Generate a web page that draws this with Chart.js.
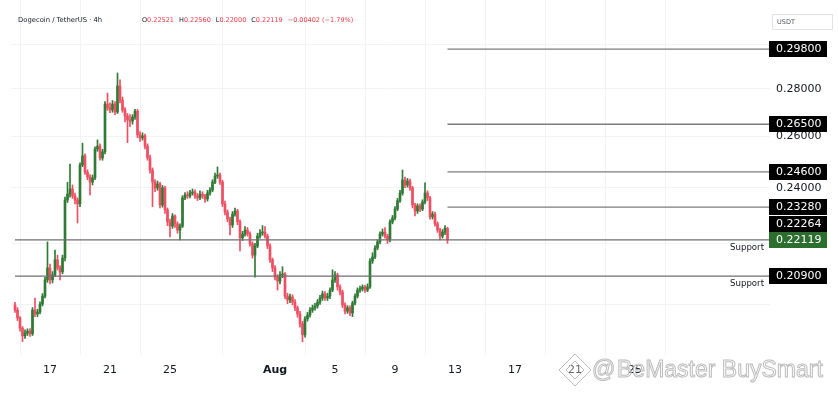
<!DOCTYPE html>
<html><head><meta charset="utf-8">
<script src="https://cdn.jsdelivr.net/npm/chart.js@4/dist/chart.umd.min.js"></script>
<style>html,body{margin:0;padding:0;background:#fff;overflow:hidden}#wrap{width:838px;height:393px;position:relative}</style>
</head><body><div id="wrap"><canvas id="c" width="838" height="393"></canvas></div>
<script>
// ---------- data ----------
const symbolTitle = 'Dogecoin / TetherUS · 4h';
const ohlcLegend = [['O','0.22521'],['H','0.22560'],['L','0.22000'],['C','0.22119'],['','\u22120.00402 (\u22121.79%)']];
const firstCandleDay = -14/6;   // days relative to Jul 17 00:00 (Jul 14 16:00)
const candleStepDays = 1/6;     // 4h candles
const firstOpen = 0.1998;
const closes = [
0.1982,0.1958,0.1927,0.1904,0.1912,0.1918,0.1910,0.1982,0.1970,0.1976,
0.2001,0.2026,0.2078,0.2117,0.2078,0.2094,0.2144,0.2117,0.2104,0.2150,
0.2354,0.2376,0.2395,0.2369,0.2354,0.2340,0.2487,0.2522,0.2459,0.2440,
0.2421,0.2437,0.2549,0.2561,0.2514,0.2538,0.2735,0.2718,0.2710,0.2735,
0.2701,0.2813,0.2752,0.2710,0.2684,0.2668,0.2663,0.2680,0.2705,0.2606,
0.2594,0.2602,0.2561,0.2514,0.2467,0.2421,0.2399,0.2414,0.2336,0.2399,
0.2318,0.2275,0.2260,0.2296,0.2268,0.2246,0.2260,0.2362,0.2373,0.2369,
0.2380,0.2384,0.2369,0.2362,0.2376,0.2369,0.2358,0.2380,0.2391,0.2421,
0.2444,0.2448,0.2421,0.2340,0.2310,0.2285,0.2264,0.2303,0.2314,0.2275,
0.2219,0.2232,0.2246,0.2232,0.2198,0.2160,0.2191,0.2225,0.2236,0.2239,
0.2225,0.2191,0.2144,0.2117,0.2087,0.2074,0.2094,0.2097,0.2026,0.2014,
0.2023,0.2007,0.1989,0.1970,0.1940,0.1907,0.1955,0.1967,0.1982,0.1989,
0.1995,0.2007,0.2020,0.2033,0.2020,0.2026,0.2045,0.2078,0.2094,0.2055,
0.2039,0.1998,0.1979,0.1989,0.1973,0.2004,0.2026,0.2045,0.2049,0.2055,
0.2045,0.2055,0.2140,0.2154,0.2184,0.2205,0.2232,0.2239,0.2225,0.2212,
0.2275,0.2289,0.2321,0.2351,0.2380,0.2429,0.2410,0.2425,0.2399,0.2336,
0.2314,0.2332,0.2321,0.2347,0.2380,0.2362,0.2293,0.2303,0.2268,0.2246,
0.2225,0.2239,0.22521,0.22119];
const highs = [
0.2006,0.1990,0.1962,0.1932,0.1922,0.1925,0.1926,0.1990,0.2020,0.1985,
0.2008,0.2034,0.2086,0.2205,0.2130,0.2105,0.2177,0.2160,0.2125,0.2160,
0.2365,0.2420,0.2490,0.2410,0.2380,0.2362,0.2495,0.2573,0.2530,0.2468,
0.2450,0.2448,0.2558,0.2586,0.2570,0.2548,0.2745,0.2782,0.2740,0.2750,
0.2745,0.2871,0.2840,0.2765,0.2720,0.2695,0.2690,0.2690,0.2712,0.2712,
0.2620,0.2615,0.2610,0.2570,0.2525,0.2475,0.2430,0.2425,0.2420,0.2408,
0.2405,0.2325,0.2285,0.2305,0.2300,0.2275,0.2268,0.2370,0.2382,0.2385,
0.2390,0.2395,0.2392,0.2378,0.2388,0.2385,0.2375,0.2390,0.2400,0.2430,
0.2455,0.2479,0.2455,0.2428,0.2350,0.2318,0.2292,0.2312,0.2325,0.2320,
0.2282,0.2242,0.2258,0.2255,0.2240,0.2205,0.2200,0.2235,0.2248,0.2262,
0.2258,0.2232,0.2198,0.2150,0.2125,0.2095,0.2105,0.2121,0.2102,0.2035,
0.2032,0.2030,0.2015,0.1995,0.1978,0.1948,0.1962,0.1975,0.1990,0.1998,
0.2003,0.2015,0.2028,0.2042,0.2040,0.2035,0.2052,0.2111,0.2105,0.2100,
0.2062,0.2045,0.2005,0.1996,0.1995,0.2010,0.2033,0.2052,0.2058,0.2062,
0.2060,0.2065,0.2148,0.2168,0.2192,0.2212,0.2240,0.2250,0.2255,0.2232,
0.2282,0.2298,0.2330,0.2360,0.2390,0.2467,0.2440,0.2435,0.2432,0.2405,
0.2342,0.2340,0.2340,0.2355,0.2418,0.2388,0.2368,0.2312,0.2310,0.2275,
0.2252,0.2248,0.2262,0.2256];
const lows = [
0.1975,0.1950,0.1918,0.1887,0.1896,0.1905,0.1902,0.1905,0.1962,0.1962,
0.1970,0.1995,0.2020,0.2070,0.2065,0.2068,0.2088,0.2110,0.2078,0.2098,
0.2140,0.2345,0.2365,0.2360,0.2340,0.2271,0.2330,0.2480,0.2450,0.2430,
0.2373,0.2410,0.2430,0.2540,0.2505,0.2505,0.2530,0.2708,0.2698,0.2700,
0.2690,0.2695,0.2740,0.2700,0.2660,0.2575,0.2640,0.2650,0.2670,0.2595,
0.2580,0.2585,0.2550,0.2505,0.2455,0.2330,0.2385,0.2390,0.2325,0.2328,
0.2305,0.2262,0.2222,0.2252,0.2255,0.2235,0.2212,0.2255,0.2355,0.2360,
0.2362,0.2372,0.2360,0.2352,0.2355,0.2360,0.2345,0.2350,0.2372,0.2385,
0.2415,0.2435,0.2412,0.2330,0.2300,0.2275,0.2229,0.2255,0.2295,0.2265,
0.2174,0.2210,0.2225,0.2225,0.2190,0.2150,0.2087,0.2185,0.2218,0.2228,
0.2218,0.2182,0.2135,0.2105,0.2078,0.2045,0.2065,0.2085,0.2018,0.2002,
0.2005,0.1998,0.1980,0.1960,0.1930,0.1886,0.1900,0.1948,0.1960,0.1975,
0.1982,0.1988,0.2000,0.2012,0.2012,0.2012,0.2018,0.2040,0.2070,0.2045,
0.2030,0.1990,0.1970,0.1972,0.1965,0.1962,0.1998,0.2020,0.2038,0.2042,
0.2038,0.2040,0.2050,0.2132,0.2148,0.2178,0.2198,0.2225,0.2218,0.2200,
0.2205,0.2268,0.2282,0.2315,0.2345,0.2372,0.2400,0.2402,0.2390,0.2325,
0.2296,0.2305,0.2312,0.2315,0.2340,0.2352,0.2285,0.2285,0.2260,0.2238,
0.2212,0.2218,0.2230,0.2200];
const xTickDays   = [0, 4, 8, 15, 19, 23, 27, 31, 35, 39];
const xTickLabels = ['17','21','25','Aug','5','9','13','17','21','25'];
const yGridValues  = [0.20, 0.22, 0.24, 0.26, 0.28, 0.30];
const yLabelValues = [0.24, 0.26, 0.28];
const resistanceLevels = [0.298, 0.265, 0.246, 0.2328];
const supportLevels = [0.22119, 0.209];
const extraPriceLabels = [0.22264];
const lastPrice = 0.22119;
const supportText = 'Support';
const currencyLabel = 'USDT';
const watermarkText = 'BeMaster BuySmart';

// ---------- derived structures ----------
const GREEN = '#2f7a34', RED = '#ef4f62';
const opens = closes.map((c, i) => i === 0 ? firstOpen : closes[i - 1]);
const dayOf = i => firstCandleDay + i * candleStepDays;
const lastDay = dayOf(closes.length - 1);
const candleColor = ctx => closes[ctx.dataIndex] >= opens[ctx.dataIndex] ? GREEN : RED;
const X_MIN = -2.6, X_MAX = 48;

const wickData = closes.map((c, i) => ({x: dayOf(i), y: [lows[i], highs[i]]}));
const bodyData = closes.map((c, i) => ({x: dayOf(i), y: [opens[i], c]}));

const levelDatasets = [
  ...resistanceLevels.map(v => ({type:'line', data:[{x:lastDay, y:v},{x:X_MAX, y:v}], borderColor:'#7d7d7d', borderWidth:1.3, pointRadius:0, order:0})),
  ...supportLevels.map(v => ({type:'line', data:[{x:dayOf(0), y:v},{x:X_MAX, y:v}], borderColor:'#6f6f6f', borderWidth:1.3, pointRadius:0, order:0}))
];

const FONT = '"DejaVu Sans", sans-serif';

const overlay = {
  id: 'overlay',
  afterDraw(chart) {
    const ctx = chart.ctx, ys = chart.scales.y;
    ctx.save();
    // title + OHLC legend
    ctx.textBaseline = 'middle';
    ctx.font = '6.8px ' + FONT;
    ctx.fillStyle = '#131722';
    ctx.fillText(symbolTitle, 18, 20);
    let x = 142;
    ctx.font = '6.5px ' + FONT;
    ohlcLegend.forEach(([k, v]) => {
      if (k) { ctx.fillStyle = '#131722'; ctx.fillText(k, x, 20); x += ctx.measureText(k).width; }
      ctx.fillStyle = '#f23645'; ctx.fillText(v, x, 20); x += ctx.measureText(v).width + 5;
    });
    // currency box
    ctx.strokeStyle = '#e0e3eb'; ctx.lineWidth = 1;
    ctx.fillStyle = '#fff';
    ctx.beginPath(); ctx.rect(772.5, 14.5, 60, 15); ctx.fill(); ctx.stroke();
    ctx.fillStyle = '#50535e'; ctx.font = '6.5px ' + FONT;
    ctx.fillText(currencyLabel, 777, 22);
    // support texts
    ctx.font = '8.6px ' + FONT; ctx.fillStyle = '#131722'; ctx.textAlign = 'right';
    supportLevels.forEach(v => ctx.fillText(supportText, 764, ys.getPixelForValue(v) + 8));
    ctx.textAlign = 'left';
    // price label boxes
    const labels = [...resistanceLevels, ...extraPriceLabels, ...supportLevels]
      .map(v => ({v, y: ys.getPixelForValue(v)}))
      .sort((a, b) => b.y - a.y);
    const H = 16;
    let prevTop = Infinity;
    labels.forEach(l => {
      if (l.y + H / 2 > prevTop) l.y = prevTop - H / 2;
      prevTop = l.y - H / 2;
      ctx.fillStyle = l.v === lastPrice ? '#2b6e2e' : '#000';
      ctx.fillRect(769, Math.round(l.y - H / 2), 58, H);
      ctx.fillStyle = '#fff';
      ctx.font = '11px ' + FONT;
      ctx.fillText(l.v.toFixed(5), 776, Math.round(l.y) + 0.5);
    });
    // watermark
    ctx.lineWidth = 1;
    ctx.strokeStyle = '#bcbcbc';
    const cx = 575, cy = 370;
    ctx.fillStyle = 'rgba(255,255,255,0.35)';
    ctx.beginPath(); ctx.moveTo(cx, cy - 16); ctx.lineTo(cx + 16, cy); ctx.lineTo(cx, cy + 16); ctx.lineTo(cx - 16, cy); ctx.closePath(); ctx.fill(); ctx.stroke();
    ctx.beginPath(); ctx.moveTo(cx, cy - 9); ctx.lineTo(cx + 9, cy); ctx.lineTo(cx, cy + 9); ctx.lineTo(cx - 9, cy); ctx.closePath(); ctx.stroke();
    ctx.textBaseline = 'alphabetic';
    ctx.font = '23px "Liberation Sans", sans-serif';
    ctx.fillStyle = 'rgba(255,255,255,0.4)';
    ctx.fillText('@', 592, 377); ctx.strokeText('@', 592, 377);
    ctx.fillText(watermarkText, 617, 377); ctx.strokeText(watermarkText, 617, 377);
    ctx.restore();
  }
};

new Chart(document.getElementById('c'), {
  type: 'bar',
  data: {
    datasets: [
      ...levelDatasets,
      {label:'wick', data: wickData, backgroundColor: candleColor, borderWidth: 0, barThickness: 1, grouped: false, order: 2},
      {label:'body', data: bodyData, backgroundColor: candleColor, borderWidth: 0, barThickness: 2, minBarLength: 1, grouped: false, order: 1}
    ]
  },
  options: {
    responsive: false, animation: false, devicePixelRatio: 1,
    layout: {padding: {left: 11, right: 0, top: 0, bottom: 0}},
    plugins: {legend: {display: false}, tooltip: {enabled: false}},
    scales: {
      x: {
        type: 'linear', min: X_MIN, max: X_MAX, offset: false,
        grid: {color: '#f1f3f6', drawTicks: false},
        border: {display: false},
        afterBuildTicks: s => { s.ticks = xTickDays.map(v => ({value: v})); },
        afterFit: s => { s.height = 38; s.paddingLeft = 0; s.paddingRight = 0; },
        ticks: {
          autoSkip: false, maxRotation: 0, padding: 9, color: '#131722',
          font: c => ({family: FONT, size: 11, weight: (c.tick && c.tick.label === 'Aug') ? 'bold' : 'normal'}),
          callback: v => { const k = xTickDays.indexOf(v); return k >= 0 ? xTickLabels[k] : ''; }
        }
      },
      y: {
        type: 'logarithmic', position: 'right', min: 0.18478, max: 0.32177, bounds: 'data',
        grid: {color: '#f1f3f6', drawTicks: false},
        border: {display: false},
        afterBuildTicks: s => { s.ticks = yGridValues.map(v => ({value: v})); },
        afterFit: s => { s.width = 68; s.paddingTop = 0; s.paddingBottom = 0; },
        ticks: {
          padding: 6, color: '#131722', font: {family: FONT, size: 11},
          callback: v => yLabelValues.some(t => Math.abs(t - v) < 1e-9) ? Number(v).toFixed(5) : ''
        }
      }
    }
  },
  plugins: [overlay]
});
</script></body></html>
